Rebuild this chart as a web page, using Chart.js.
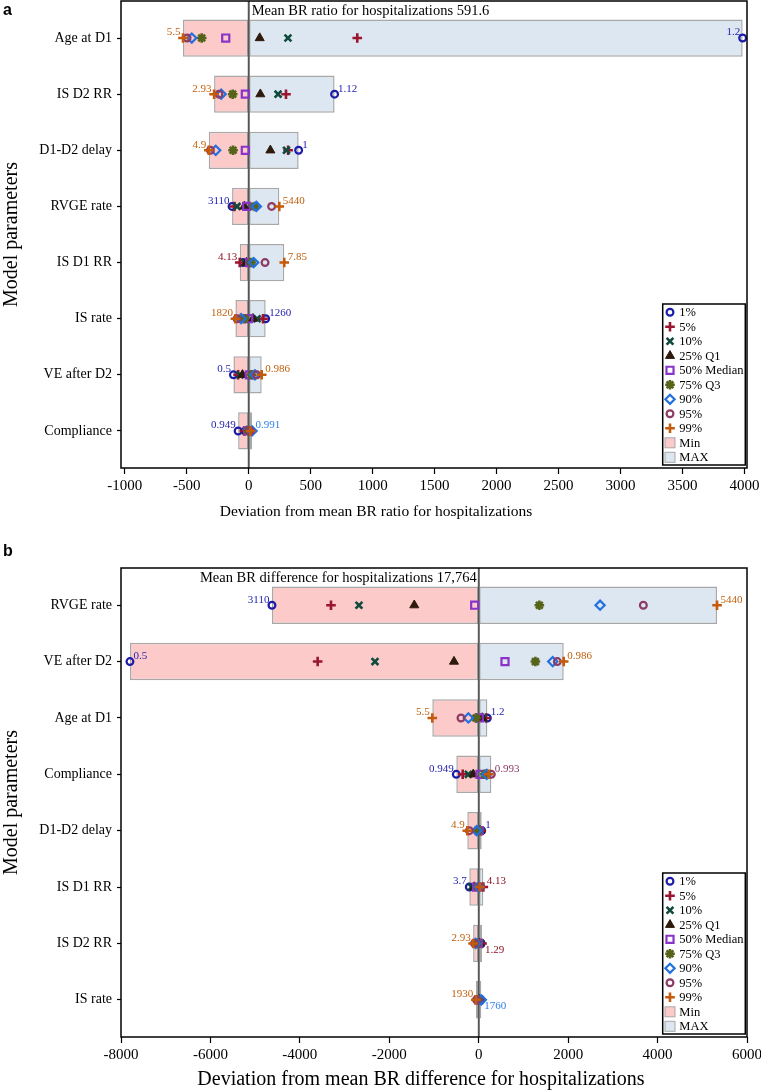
<!DOCTYPE html>
<html><head><meta charset="utf-8">
<script src="https://cdn.jsdelivr.net/npm/chart.js@4.4.1/dist/chart.umd.min.js"></script>
<style>
html,body{margin:0;padding:0;background:#fff;}
#wrap{position:relative;width:761px;height:1092px;overflow:hidden;}
#ca{position:absolute;left:0;top:0;}
#cb{position:absolute;left:0;top:530px;}
.panel{position:absolute;font:bold 16px "Liberation Sans",Arial,sans-serif;color:#000;line-height:18px;}
</style></head><body>
<div id="wrap">
<canvas id="ca" width="761" height="530"></canvas>
<canvas id="cb" width="761" height="562"></canvas>
<div class="panel" style="left:3px;top:1px">a</div>
<div class="panel" style="left:3px;top:542px">b</div>
</div>
<script>
// ---------- DATA ----------
const seriesNames = ['1%','5%','10%','25% Q1','50% Median','75% Q3','90%','95%','99%'];

// Panel a: deviation from mean BR ratio (591.6)
const paramsA = ['Age at D1','IS D2 RR','D1-D2 delay','RVGE rate','IS D1 RR','IS rate','VE after D2','Compliance'];
const minA = [-530,-279,-322,-134,-72,-107,-123,-85];
const maxA = [3985,693,403,247,287,137,105,27];
const p01A = [3985,693,403,-134,-45,137,-123,-85];
const p05A = [876,301,318,-115,-72,116,-85,-35];
const p10A = [317,237,305,-94,-30,68,-70,-25];
const p25A = [89,94,175,-35,-18,35,-50,-15];
const p50A = [-185,-27,-27,-16,8,0,5,-8];
const p75A = [-379,-129,-126,48,20,-35,25,0];
const p90A = [-459,-222,-266,62,40,-61,50,27];
const p95A = [-497,-240,-309,185,132,-94,65,12];
const p99A = [-530,-279,-322,247,287,-107,105,15];
const xTicksA = [-1000,-500,0,500,1000,1500,2000,2500,3000,3500,4000];
const noteRowsA   = [0,0,1,1,2,2,3,3,4,4,5,5,6,6,7,7];
const noteSeriesA = [8,0,8,0,8,0,0,8,1,8,8,0,0,8,0,6];
const noteTextsA  = ['5.5','1.2','2.93','1.12','4.9','1','3110','5440','4.13','7.85','1820','1260','0.5','0.986','0.949','0.991'];

// Panel b: deviation from mean BR difference (17,764)
const paramsB = ['RVGE rate','VE after D2','Age at D1','Compliance','D1-D2 delay','IS D1 RR','IS D2 RR','IS rate'];
const minB = [-4624,-7800,-1038,-501,-255,-210,-125,-64];
const maxB = [5330,1901,193,282,67,103,74,58];
const p01B = [-4624,-7800,193,-501,67,-210,55,45];
const p05B = [-3304,-3602,163,-358,55,103,74,35];
const p10B = [-2678,-2320,104,-232,45,-160,45,25];
const p25B = [-1441,-553,80,-121,30,-100,20,15];
const p50B = [-90,588,13,29,10,-48,-10,0];
const p75B = [1356,1267,-60,134,-10,-10,-40,-20];
const p90B = [2714,1655,-232,179,-45,10,-70,58];
const p95B = [3682,1758,-396,282,-210,47,-95,-50];
const p99B = [5330,1901,-1038,224,-255,25,-125,-64];
const xTicksB = [-8000,-6000,-4000,-2000,0,2000,4000,6000];
const noteRowsB   = [0,0,1,1,2,2,3,3,4,4,5,5,6,6,7,7];
const noteSeriesB = [0,8,0,8,8,0,0,7,8,0,0,1,8,1,8,6];
const noteTextsB  = ['3110','5440','0.5','0.986','5.5','1.2','0.949','0.993','4.9','1','3.7','4.13','2.93','1.29','1930','1760'];

// ---------- STYLE ----------
const SERIF = '"Liberation Serif","Times New Roman",serif';
const markerStyles = [
  {pointStyle:'circle',   radius:3.4, color:'#1c1ca8', fill:false, bw:2.2},
  {pointStyle:'cross',    radius:4.8, color:'#9a1530', fill:false, bw:2.6},
  {pointStyle:'crossRot', radius:4.8, color:'#0f4a3c', fill:false, bw:2.6},
  {pointStyle:'triangle', radius:5.2, color:'#2e1a0c', fill:true,  bw:1},
  {pointStyle:'rect',     radius:5,   color:'#8a33c8', fill:false, bw:2.2},
  {pointStyle:'star',     radius:4.8, color:'#56641a', fill:false, bw:2.6},
  {pointStyle:'rectRot',  radius:4.6, color:'#2270e0', fill:false, bw:2.2},
  {pointStyle:'circle',   radius:3.4, color:'#8c3a66', fill:false, bw:2.2},
  {pointStyle:'cross',    radius:4.8, color:'#c45a0c', fill:false, bw:2.6}
];
const noteColors = ['#2424b0','#8b1424','#0f4a3c','#2e1a0c','#8a33c8','#56641a','#2f7fe6','#8c3a66','#c0600e'];
const MIN_FILL = '#fdcaca', MAX_FILL = '#dde7f1', BAR_BORDER = '#a8a8a8';

const panels = {
  ca: {
    params: paramsA, min: minA, max: maxA,
    series: [p01A,p05A,p10A,p25A,p50A,p75A,p90A,p95A,p99A],
    ticks: xTicksA, xmin: -1030, xmax: 4020,
    noteRows: noteRowsA, noteSeries: noteSeriesA, noteTexts: noteTextsA,
    noteAnchor: ['lu','lu','lu','ru','lu','ru','lu','ru','lu','ru','lu','ru','lu','ru','lu','ru'],
    inner: 'Mean BR ratio for hospitalizations 591.6', innerAlign: 'left',
    xTitle: 'Deviation from mean BR ratio for hospitalizations', xTitleSize: 15.5, xTitleX: 376, xTitleY: 512,
    padTop: 1, axisH: 62
  },
  cb: {
    params: paramsB, min: minB, max: maxB,
    series: [p01B,p05B,p10B,p25B,p50B,p75B,p90B,p95B,p99B],
    ticks: xTicksB, xmin: -8000, xmax: 6000,
    noteRows: noteRowsB, noteSeries: noteSeriesB, noteTexts: noteTextsB,
    noteAnchor: ['lu','ru','ru','ru','lu','ru','lu','ru','lu','ru','lu','ru','lu','rd','lu','rd'],
    inner: 'Mean BR difference for hospitalizations 17,764', innerAlign: 'right',
    xTitle: 'Deviation from mean BR difference for hospitalizations', xTitleSize: 20, xTitleX: 421, xTitleY: 550,
    padTop: 38, axisH: 55
  }
};

function drawMarker(ctx, st, x, y) {
  ctx.save();
  ctx.strokeStyle = st.color;
  ctx.fillStyle = st.fill ? st.color : 'rgba(0,0,0,0)';
  ctx.lineWidth = st.bw;
  Chart.helpers.drawPoint(ctx, {pointStyle: st.pointStyle, radius: st.radius, borderWidth: st.bw, rotation: 0}, x, y);
  ctx.restore();
}

const tornadoPlugin = {
  id: 'tornado',
  afterDatasetDraw(chart, args) {
    if (args.meta.type !== 'bar') return;
    const {ctx, chartArea: a, scales: {x}} = chart;
    const zx = x.getPixelForValue(0);
    ctx.save();
    ctx.strokeStyle = '#555'; ctx.lineWidth = 1.6;
    ctx.beginPath(); ctx.moveTo(zx, a.top); ctx.lineTo(zx, a.bottom); ctx.stroke();
    ctx.restore();
  },
  afterDatasetsDraw(chart) {
    const m = panels[chart.canvas.id];
    const {ctx, scales: {x, y}} = chart;
    ctx.save();
    ctx.font = '11px ' + SERIF;
    ctx.textBaseline = 'middle';
    m.noteTexts.forEach((t, k) => {
      const row = m.noteRows[k], s = m.noteSeries[k];
      const px = x.getPixelForValue(m.series[s][row]);
      const py = y.getPixelForValue(row);
      const anc = m.noteAnchor[k];
      ctx.fillStyle = noteColors[s];
      if (anc === 'lu') { ctx.textAlign = 'right'; ctx.fillText(t, px - 2.5, py - 5.5); }
      else if (anc === 'ru') { ctx.textAlign = 'left'; ctx.fillText(t, px + 3.5, py - 5.5); }
      else { ctx.textAlign = 'left'; ctx.fillText(t, px + 3, py + 6.5); }
    });
    ctx.restore();
  },
  afterDraw(chart) {
    const m = panels[chart.canvas.id];
    const {ctx, chartArea: a, scales: {x}} = chart;
    ctx.save();
    // frame
    ctx.strokeStyle = '#000'; ctx.lineWidth = 1.5;
    ctx.strokeRect(a.left, a.top, a.right - a.left, a.bottom - a.top);
    // inner title
    const zx = x.getPixelForValue(0);
    ctx.fillStyle = '#000';
    ctx.font = '14.5px ' + SERIF;
    ctx.textBaseline = 'middle';
    if (m.innerAlign === 'left') { ctx.textAlign = 'left'; ctx.fillText(m.inner, zx + 3, a.top + 10); }
    else { ctx.textAlign = 'right'; ctx.fillText(m.inner, zx - 2, a.top + 10); }
    // x title
    ctx.font = m.xTitleSize + 'px ' + SERIF;
    ctx.textAlign = 'center';
    ctx.fillText(m.xTitle, m.xTitleX, m.xTitleY);
    // legend
    const lw = 82.6, lh = 161;
    const lx = a.right - 1.7 - lw, ly = a.bottom - 3 - lh;
    ctx.fillStyle = '#fff';
    ctx.fillRect(lx, ly, lw, lh);
    ctx.strokeStyle = '#000'; ctx.lineWidth = 1.5;
    ctx.strokeRect(lx, ly, lw, lh);
    const items = seriesNames.concat(['Min', 'MAX']);
    items.forEach((name, i) => {
      const cy = ly + 8.3 + i * 14.5;
      const mx = lx + 7.3;
      if (i < seriesNames.length) {
        drawMarker(ctx, markerStyles[i], mx, cy);
      } else {
        ctx.fillStyle = i === seriesNames.length ? MIN_FILL : MAX_FILL;
        ctx.fillRect(mx - 5, cy - 5, 10, 10);
        ctx.strokeStyle = BAR_BORDER; ctx.lineWidth = 1;
        ctx.strokeRect(mx - 5, cy - 5, 10, 10);
      }
      ctx.fillStyle = '#000';
      ctx.font = '12.5px ' + SERIF;
      ctx.textAlign = 'left'; ctx.textBaseline = 'middle';
      ctx.fillText(name, lx + 16.6, cy + 0.5);
    });
    ctx.restore();
  }
};

function build(id) {
  const m = panels[id];
  const datasets = [];
  seriesNames.forEach((name, s) => {
    const st = markerStyles[s];
    datasets.push({
      type: 'scatter', label: name,
      data: m.params.map((p, i) => ({x: m.series[s][i], y: i})),
      pointStyle: st.pointStyle, pointRadius: st.radius, pointHoverRadius: st.radius,
      pointBorderWidth: st.bw, pointBorderColor: st.color,
      pointBackgroundColor: st.fill ? st.color : 'rgba(0,0,0,0)',
      order: 9 - s
    });
  });
  datasets.push({
    type: 'bar', label: 'Min',
    data: m.params.map((p, i) => ({x: [0, m.min[i]], y: i})),
    backgroundColor: MIN_FILL, borderColor: BAR_BORDER, borderWidth: 1.5, borderSkipped: false,
    grouped: false, barPercentage: 0.665, categoryPercentage: 1, order: 21
  });
  datasets.push({
    type: 'bar', label: 'MAX',
    data: m.params.map((p, i) => ({x: [0, m.max[i]], y: i})),
    backgroundColor: MAX_FILL, borderColor: BAR_BORDER, borderWidth: 1.5, borderSkipped: false,
    grouped: false, barPercentage: 0.665, categoryPercentage: 1, order: 20
  });
  return new Chart(document.getElementById(id), {
    type: 'bar',
    data: {datasets},
    plugins: [tornadoPlugin],
    options: {
      indexAxis: 'y',
      responsive: false, animation: false, devicePixelRatio: 1,
      layout: {autoPadding: false, padding: {top: m.padTop, right: 14, left: 0, bottom: 0}},
      plugins: {legend: {display: false}, tooltip: {enabled: false}},
      scales: {
        x: {
          type: 'linear', min: m.xmin, max: m.xmax, offset: false,
          afterBuildTicks: sc => { sc.ticks = m.ticks.map(v => ({value: v})); },
          afterFit: sc => { sc.height = m.axisH; sc.paddingLeft = 0; sc.paddingRight = 0; },
          ticks: {font: {family: SERIF, size: 15}, color: '#000', padding: 3, maxRotation: 0, autoSkip: false,
                  callback: v => String(v)},
          grid: {drawOnChartArea: false, drawTicks: true, tickLength: 6, tickColor: '#000', tickWidth: 1.2, offset: false},
          border: {display: false},
          title: {display: false}
        },
        y: {
          type: 'linear', reverse: true, min: -0.66, max: 7.66, offset: false,
          afterBuildTicks: sc => { sc.ticks = m.params.map((p, i) => ({value: i})); },
          afterFit: sc => { sc.width = 121; sc.paddingTop = 0; sc.paddingBottom = 0; },
          ticks: {font: {family: SERIF, size: 14}, color: '#000', padding: 5, autoSkip: false,
                  callback: v => m.params[v]},
          grid: {drawOnChartArea: false, drawTicks: true, tickLength: 4, tickColor: '#000', tickWidth: 1.2, offset: false},
          border: {display: false},
          title: {display: true, text: 'Model parameters', color: '#000',
                  font: {family: SERIF, size: 20}, padding: {top: 0, bottom: 0}}
        }
      }
    }
  });
}
build('ca');
build('cb');
</script>
</body></html>
